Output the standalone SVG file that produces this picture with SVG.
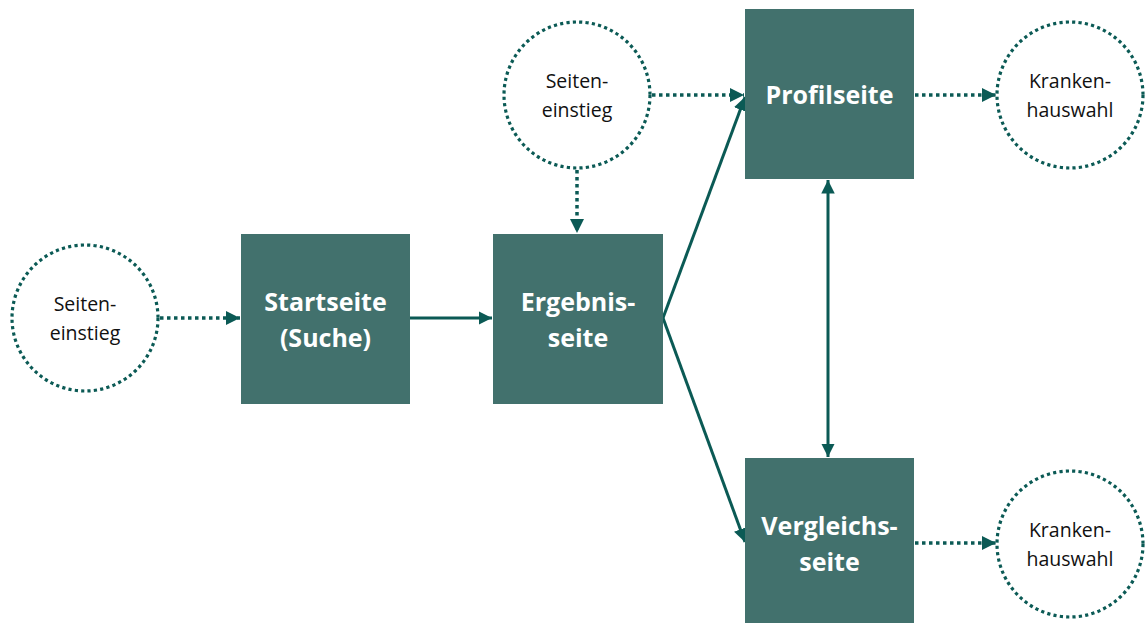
<svg xmlns="http://www.w3.org/2000/svg" width="1145" height="623" viewBox="0 0 1145 623">
<style>
.box{fill:#42716d}
.btxt{fill:#fff;font-family:"Open Sans",Lato,sans-serif;font-weight:bold;font-size:25px;text-anchor:middle}
.circ{fill:#fff;stroke:#0b5a55;stroke-width:3.2;stroke-dasharray:3.2 3.2}
.ctxt{fill:#111;font-family:"Open Sans",Lato,sans-serif;font-size:19.5px;text-anchor:middle}
.solid{stroke:#0b5a55;stroke-width:3;fill:none}
.dot{stroke:#0b5a55;stroke-width:3.5;stroke-dasharray:3.5 3.5;fill:none}
</style>
<defs>
<marker id="ah" viewBox="0 0 10 10" refX="10" refY="5" markerWidth="4.5" markerHeight="4.5" orient="auto-start-reverse" markerUnits="strokeWidth">
<path d="M0,0 L10,5 L0,10 z" fill="#0b5a55"/>
</marker>
<marker id="ahd" viewBox="0 0 10 10" refX="10" refY="5" markerWidth="4" markerHeight="4" orient="auto" markerUnits="strokeWidth">
<path d="M0,0 L10,5 L0,10 z" fill="#0b5a55"/>
</marker>
</defs>
<g id="connectors">
<path class="dot" d="M160,318 L240,318" marker-end="url(#ahd)"/>
<path class="solid" d="M410,318 L492,318" marker-end="url(#ah)"/>
<path class="dot" d="M652,95 L744,95" marker-end="url(#ahd)"/>
<path class="dot" d="M577,170 L577,233" marker-end="url(#ahd)"/>
<path class="solid" d="M663,318 L745,97" marker-end="url(#ah)"/>
<path class="solid" d="M663,318 L745,542" marker-end="url(#ah)"/>
<path class="solid" d="M828,180 L828,457" marker-start="url(#ah)" marker-end="url(#ah)"/>
<path class="dot" d="M915,95 L996,95" marker-end="url(#ahd)"/>
<path class="dot" d="M915,543 L996,543" marker-end="url(#ahd)"/>
</g>
<g id="entry1">
<circle class="circ" cx="85" cy="318" r="73"/>
<text class="ctxt" x="85" y="311">Seiten-</text>
<text class="ctxt" x="85" y="340">einstieg</text>
</g>
<g id="startseite">
<rect class="box" x="241" y="234" width="169" height="170"/>
<text class="btxt" x="325.5" y="311">Startseite</text>
<text class="btxt" x="325.5" y="347">(Suche)</text>
</g>
<g id="ergebnisseite">
<rect class="box" x="493" y="234" width="170" height="170"/>
<text class="btxt" x="578" y="311">Ergebnis-</text>
<text class="btxt" x="578" y="347">seite</text>
</g>
<g id="entry2">
<circle class="circ" cx="577" cy="95" r="73"/>
<text class="ctxt" x="577" y="88">Seiten-</text>
<text class="ctxt" x="577" y="117">einstieg</text>
</g>
<g id="profilseite">
<rect class="box" x="745" y="9" width="169" height="170"/>
<text class="btxt" x="829.5" y="104">Profilseite</text>
</g>
<g id="vergleichsseite">
<rect class="box" x="745" y="458" width="169" height="170"/>
<text class="btxt" x="829.5" y="535">Vergleichs-</text>
<text class="btxt" x="829.5" y="571">seite</text>
</g>
<g id="wahl1">
<circle class="circ" cx="1070" cy="95" r="73"/>
<text class="ctxt" x="1070" y="88">Kranken-</text>
<text class="ctxt" x="1070" y="117">hauswahl</text>
</g>
<g id="wahl2">
<circle class="circ" cx="1070" cy="544" r="73"/>
<text class="ctxt" x="1070" y="537">Kranken-</text>
<text class="ctxt" x="1070" y="566">hauswahl</text>
</g>
</svg>
